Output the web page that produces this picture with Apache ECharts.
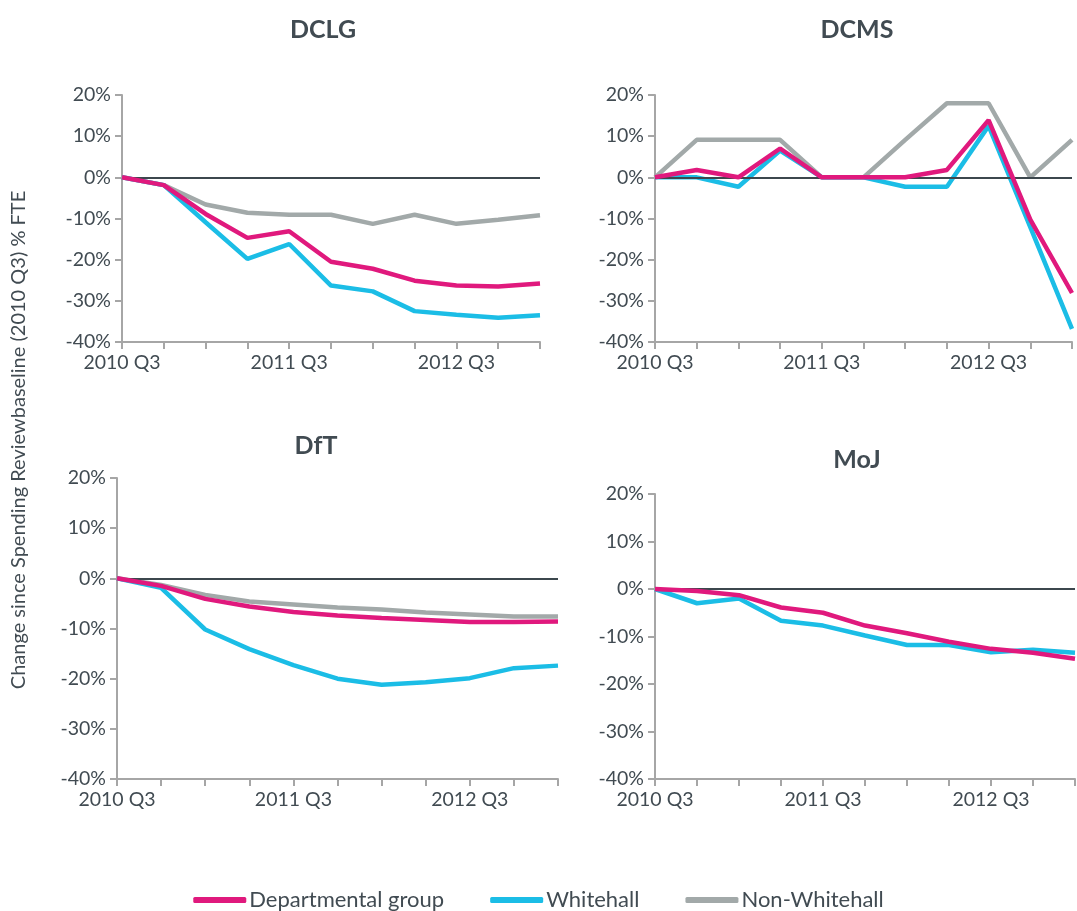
<!DOCTYPE html>
<html>
<head>
    <meta charset="utf-8">
    <title>FTE change since Spending Review baseline</title>
    <script src="https://cdn.jsdelivr.net/npm/echarts@6/dist/echarts.min.js"></script>
</head>
<body style="margin:0">
<div id="main" style="width:1077px;height:911px;background:#fff"></div>
<script type="text/javascript">
    // quarters, labels shown every 4th
    var quarters = ['2010 Q3', '2010 Q4', '2011 Q1', '2011 Q2', '2011 Q3', '2011 Q4',
        '2012 Q1', '2012 Q2', '2012 Q3', '2012 Q4', '2013 Q1'];
    var panels = ['DCLG', 'DCMS', 'DfT', 'MoJ'];
    var seriesNames = ['Departmental group', 'Whitehall', 'Non-Whitehall'];

    // % change since 2010 Q3
    var dclgDept = [0, -1.9, -8.9, -14.7, -13.1, -20.5, -22.2, -25.1, -26.3, -26.5, -25.8];
    var dclgWhite = [0, -1.9, -10.9, -19.8, -16.2, -26.3, -27.7, -32.5, -33.4, -34.1, -33.5];
    var dclgNon = [0, -1.9, -6.6, -8.6, -9.1, -9.1, -11.3, -9.1, -11.3, -10.3, -9.2];

    var dcmsDept = [0, 1.8, 0, 7.0, 0, 0, 0, 1.8, 13.9, -10.3, -28.1];
    var dcmsWhite = [0, 0, -2.3, 6.5, 0, 0, -2.3, -2.3, 12.5, -12.1, -36.8];
    var dcmsNon = [0, 9.1, 9.1, 9.1, 0, 0, 9.1, 18.0, 18.0, 0, 9.1];

    var dftDept = [0, -1.5, -4.1, -5.6, -6.7, -7.4, -7.9, -8.3, -8.7, -8.7, -8.6];
    var dftWhite = [0, -1.9, -10.2, -14.1, -17.3, -20.0, -21.2, -20.7, -19.9, -17.9, -17.4];
    var dftNon = [0, -1.3, -3.3, -4.6, -5.2, -5.8, -6.2, -6.8, -7.2, -7.6, -7.6];

    var mojDept = [0, -0.4, -1.3, -3.9, -5.0, -7.7, -9.3, -11.1, -12.6, -13.4, -14.7];
    var mojWhite = [0, -3.0, -2.0, -6.7, -7.7, -9.8, -11.8, -11.8, -13.3, -12.8, -13.4];
    var mojNon = [];

    var yTicks = [-40, -30, -20, -10, 0, 10, 20];

    var panelData = [
        [dclgDept, dclgWhite, dclgNon],
        [dcmsDept, dcmsWhite, dcmsNon],
        [dftDept, dftWhite, dftNon],
        [mojDept, mojWhite, mojNon]
    ];
    var colors = ['#e0197d', '#1bbde6', '#a2a9a9'];
    var textCol = '#414b52';
    var font = 'Lato';

    var grids = [
        {left: 122, top: 95, width: 418, height: 247},
        {left: 655, top: 95, width: 417, height: 247},
        {left: 117, top: 478, width: 441, height: 301},
        {left: 655, top: 494, width: 420, height: 285}
    ];
    var titlePos = [[318, 12], [852, 12], [311, 428], [852, 442]];

    var myChart = echarts.init(document.getElementById('main'));

    var xAxes = [], yAxes = [], series = [], titles = [];
    panels.forEach(function (name, i) {
        titles.push({
            text: name, left: titlePos[i][0], top: titlePos[i][1], textAlign: 'center',
            textStyle: {color: textCol, fontFamily: font, fontSize: 25, fontWeight: 'bold'}
        });
        xAxes.push({
            type: 'category', gridIndex: i, data: quarters, boundaryGap: false,
            axisLine: {onZero: false, lineStyle: {color: '#a6a6a6', width: 2}},
            axisTick: {interval: 0, length: 7, lineStyle: {color: '#a6a6a6', width: 2}},
            axisLabel: {interval: 3, color: textCol, fontFamily: font, fontSize: 19.5, margin: 11},
            splitLine: {show: false}
        });
        yAxes.push({
            type: 'value', gridIndex: i, min: yTicks[0], max: yTicks[yTicks.length - 1], interval: 10,
            axisLine: {show: true, lineStyle: {color: '#a6a6a6', width: 2}},
            axisTick: {show: true, length: 7, lineStyle: {color: '#a6a6a6', width: 2}},
            axisLabel: {formatter: '{value}%', color: textCol, fontFamily: font, fontSize: 19.5, margin: 11},
            splitLine: {show: false}
        });
        // draw grey first, pink on top
        [2, 1, 0].forEach(function (k) {
            var s = {
                name: seriesNames[k], type: 'line', xAxisIndex: i, yAxisIndex: i,
                data: panelData[i][k], showSymbol: false, symbol: 'none',
                lineStyle: {color: colors[k], width: 4.5}, itemStyle: {color: colors[k]},
                z: 3 + (2 - k)
            };
            if (k === 2) {
                s.markLine = {
                    silent: true, symbol: 'none', label: {show: false},
                    lineStyle: {color: '#3c474d', width: 2, type: 'solid'},
                    data: [{yAxis: 0}]
                };
            }
            series.push(s);
        });
    });

    myChart.setOption({
        animation: false,
        title: titles,
        grid: grids,
        xAxis: xAxes,
        yAxis: yAxes,
        legend: {
            data: seriesNames, top: 884, left: 'center', itemWidth: 53, itemHeight: 6, itemGap: 46,
            icon: 'roundRect',
            textStyle: {color: textCol, fontFamily: font, fontSize: 22, padding: [0, 0, 0, -2]}
        },
        graphic: [{
            type: 'text', x: 19, y: 440, rotation: Math.PI / 2,
            style: {
                text: 'Change since Spending Reviewbaseline (2010 Q3) % FTE',
                fill: textCol, font: '20px ' + font, textAlign: 'center', textVerticalAlign: 'middle'
            }
        }],
        series: series
    });
</script>
</body>
</html>
